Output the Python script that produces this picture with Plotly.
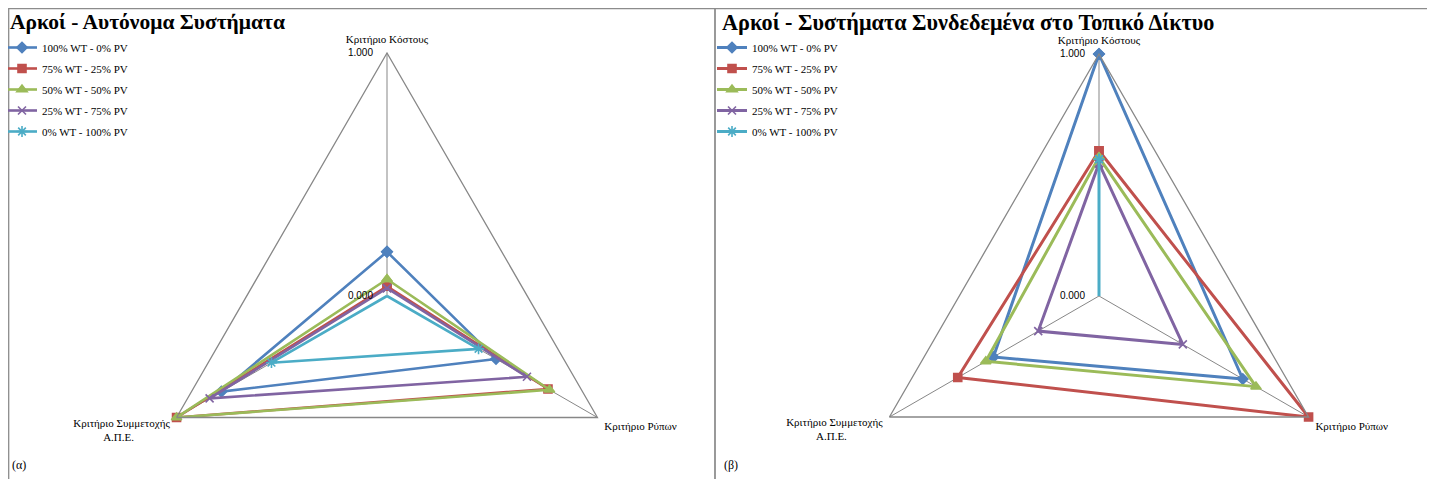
import plotly.graph_objects as go

W, H = 1435, 540      # figure is taller than the window; only the top part is seen
OFF = 8               # page body margin

categories = ["Κριτήριο Κόστους", "Κριτήριο Ρύπων",
              "Κριτήριο Συμμετοχής<br>Α.Π.Ε." + "\u00a0" * 13]
series_names = ["100% WT - 0% PV", "75% WT - 25% PV", "50% WT - 50% PV",
                "25% WT - 75% PV", "0% WT - 100% PV"]

# (α) Αυτόνομα Συστήματα: [Κόστους, Ρύπων, Συμμετοχής Α.Π.Ε.]
auto_wt100 = [0.182, 0.518, 0.787]
auto_wt75 = [0.040, 0.765, 1.000]
auto_wt50 = [0.069, 0.772, 1.000]
auto_wt25 = [0.032, 0.665, 0.843]
auto_wt0 = [0.000, 0.435, 0.549]

# (β) Συστήματα Συνδεδεμένα στο Τοπικό Δίκτυο
grid_wt100 = [1.000, 0.686, 0.504]
grid_wt75 = [0.600, 1.000, 0.674]
grid_wt50 = [0.573, 0.749, 0.540]
grid_wt25 = [0.548, 0.400, 0.290]
grid_wt0 = [0.565, 0.000, 0.000]

radial_ticks = [0, 1]

titles = ["Αρκοί - Αυτόνομα Συστήματα",
          "Αρκοί - Συστήματα Συνδεδεμένα στο Τοπικό Δίκτυο"]
panel_tags = ["(α)", "(β)"]

colors = ["#4F81BD", "#C0504D", "#9BBB59", "#8064A2", "#4BACC6"]
symbols = ["diamond", "square", "triangle-up", "x-thin-open", "asterisk-open"]
sizes = [8, 8, 9, 8, 9]
GRID = "#878787"
FRAME = "#8c8c8c"
SERIF = "Liberation Serif"
SANS = "Liberation Sans"


def px_x(v):
    return (v - OFF) / W


def px_y(v):
    return 1 - (v - OFF) / H


fig = go.Figure()

panels = [
    ("polar", "legend", [auto_wt100, auto_wt75, auto_wt50, auto_wt25, auto_wt0], 2.6),
    ("polar2", "legend2", [grid_wt100, grid_wt75, grid_wt50, grid_wt25, grid_wt0], 3.0),
]

for subplot, legend, data, lw in panels:
    for i, (name, vals) in enumerate(zip(series_names, data)):
        fig.add_trace(go.Scatterpolar(
            r=vals + vals[:1], theta=categories + categories[:1],
            mode="lines+markers", name=name, subplot=subplot, legend=legend,
            legendgroup=f"{subplot}{i}",
            line=dict(color=colors[i], width=lw),
            marker=dict(symbol=symbols[i], size=sizes[i], color=colors[i],
                        line=dict(color=colors[i], width=1.6)),
            cliponaxis=False))


def polar_layout(cx, cy, R):
    return dict(
        domain=dict(x=[px_x(cx - R), px_x(cx + R)], y=[px_y(cy + R), px_y(cy - R)]),
        gridshape="linear",
        bgcolor="rgba(0,0,0,0)",
        radialaxis=dict(range=[0, 1], tickvals=radial_ticks, tickformat=".3f",
                        showline=False, showgrid=True, gridcolor=GRID, gridwidth=1.3,
                        angle=90, side="counterclockwise", tickangle=90,
                        ticks="outside", ticklen=10, tickcolor="rgba(0,0,0,0)",
                        tickfont=dict(family=SANS, size=10, color="#000")),
        angularaxis=dict(rotation=90, direction="clockwise", showline=True,
                         linecolor=GRID, linewidth=1.3, showgrid=True,
                         gridcolor=GRID, gridwidth=1.3,
                         ticks="outside", ticklen=5, tickcolor="rgba(0,0,0,0)",
                         categoryorder="array", categoryarray=categories,
                         tickfont=dict(family=SERIF, size=11, color="#000")),
    )


legend_style = dict(xanchor="left", yanchor="top",
                    font=dict(family=SERIF, size=11, color="#000"),
                    bgcolor="rgba(0,0,0,0)", tracegroupgap=2, itemwidth=30)

fig.update_layout(
    width=W, height=H,
    margin=dict(l=0, r=0, t=0, b=0, autoexpand=False),
    paper_bgcolor="white",
    polar=polar_layout(387, 296, 243),
    polar2=polar_layout(1099, 296, 242),
    legend=dict(x=px_x(2), y=px_y(33), **legend_style),
    legend2=dict(x=px_x(712), y=px_y(33), **legend_style),
    showlegend=True,
)

# panel frames (left/top edges kept just inside the page)
for x0, x1 in [(8.7, 715), (715, 1428)]:
    fig.add_shape(type="rect", xref="paper", yref="paper",
                  x0=px_x(x0), x1=px_x(x1), y0=0, y1=px_y(8.7),
                  line=dict(color=FRAME, width=1.3))

for x0, title, tag, tsize in [(9, titles[0], panel_tags[0], 21.5),
                              (721, titles[1], panel_tags[1], 22.2)]:
    fig.add_annotation(x=px_x(x0), y=px_y(9), xref="paper", yref="paper",
                       xanchor="left", yanchor="top", showarrow=False, borderpad=0,
                       text=f"<b>{title}</b>",
                       font=dict(family=SERIF, size=tsize, color="#000"))
    fig.add_annotation(x=px_x(x0 + 1), y=px_y(465), xref="paper", yref="paper",
                       xanchor="left", yanchor="middle", showarrow=False,
                       text=tag, font=dict(family=SERIF, size=12, color="#000"))

fig.write_html("out.html")
